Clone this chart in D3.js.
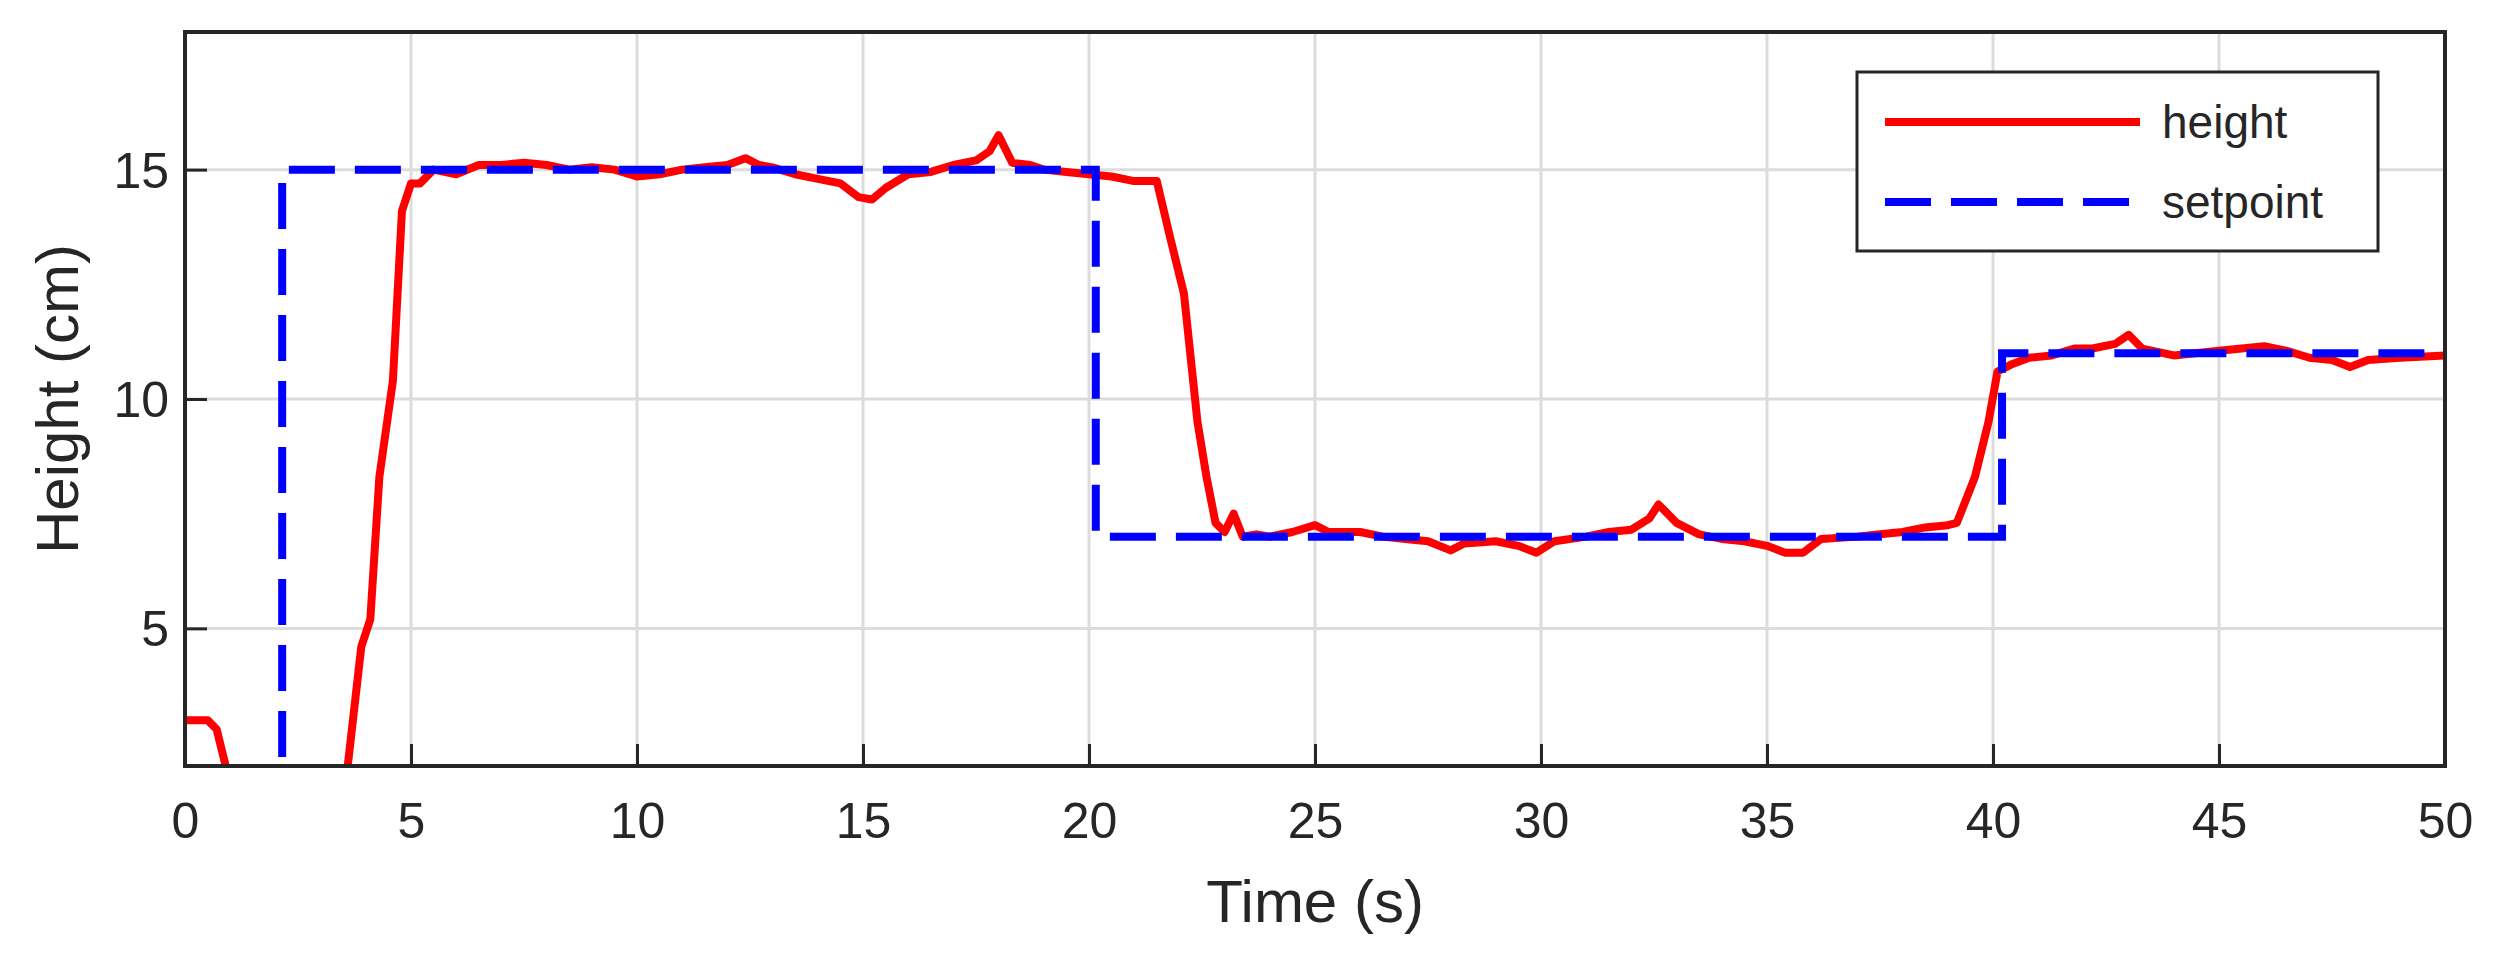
<!DOCTYPE html><html><head><meta charset="utf-8"><script src="https://cdn.jsdelivr.net/npm/d3@7"></script>
<style>body{margin:0;background:#fff}text{font-family:"Liberation Sans",Arial,sans-serif;fill:#262626}</style></head><body><svg id="c" width="2503" height="964"></svg><script>
const timeH=[0,0.5,0.7,0.9,2.2,3.6,3.9,4.1,4.3,4.6,4.8,5.0,5.2,5.5,6,6.5,7,7.5,8,8.5,9,9.5,10,10.5,11,11.5,12,12.4,12.7,13,13.5,14,14.5,14.9,15.2,15.5,16,16.5,17,17.5,17.8,18.0,18.3,18.7,19,19.5,20,20.5,21,21.5,21.8,22.1,22.4,22.6,22.8,23.0,23.2,23.4,23.7,24,24.5,25,25.3,26,26.5,27,27.5,28,28.3,29,29.5,29.9,30.3,31,31.5,32,32.4,32.6,33,33.5,34,34.5,35,35.4,35.8,36.2,37,37.5,38,38.5,39,39.2,39.6,39.9,40.1,40.4,40.8,41.3,41.8,42.2,42.7,43.0,43.3,44,45,45.5,46,46.5,47,47.5,47.9,48.3,49,50];
const height=[3,3,2.8,2,0.5,2,4.6,5.2,8.3,10.4,14.1,14.7,14.7,15.0,14.9,15.1,15.1,15.15,15.1,15.0,15.05,15.0,14.85,14.9,15.0,15.05,15.1,15.25,15.1,15.05,14.9,14.8,14.7,14.4,14.35,14.6,14.9,14.95,15.1,15.2,15.4,15.75,15.15,15.1,15.0,14.95,14.9,14.85,14.75,14.75,13.5,12.3,9.5,8.3,7.3,7.1,7.5,7.0,7.05,7.0,7.1,7.25,7.1,7.1,7.0,6.95,6.9,6.7,6.85,6.9,6.8,6.65,6.9,7.0,7.1,7.15,7.4,7.7,7.3,7.05,6.95,6.9,6.8,6.65,6.65,6.95,7.0,7.05,7.1,7.2,7.25,7.3,8.3,9.5,10.6,10.75,10.9,10.95,11.1,11.1,11.2,11.4,11.1,10.95,11.05,11.1,11.15,11.05,10.9,10.85,10.7,10.85,10.9,10.95];
const timeS=[0,2.15,2.15,20.15,20.15,40.2,40.2,50];
const setpoint=[0,0,15,15,7,7,11,11];
const xTicks=[0,5,10,15,20,25,30,35,40,45,50];
const yTicks=[5,10,15];
const L=185,R=2445,T=32,B=766;
const svg=d3.select("#c");
const x=d3.scaleLinear().domain([0,50]).range([L,R]);
const y=d3.scaleLinear().domain([2,18]).range([B,T]);
const g=svg.append("g");
g.selectAll(".gx").data(xTicks).join("line").attr("x1",d=>x(d)).attr("x2",d=>x(d)).attr("y1",T).attr("y2",B).attr("stroke","#dcdcdc").attr("stroke-width",3);
g.selectAll(".gy").data(yTicks).join("line").attr("y1",d=>y(d)).attr("y2",d=>y(d)).attr("x1",L).attr("x2",R).attr("stroke","#dcdcdc").attr("stroke-width",3);
svg.append("clipPath").attr("id","cp").append("rect").attr("x",L).attr("y",T).attr("width",R-L).attr("height",B-T);
const line=d3.line().x(d=>x(d[0])).y(d=>y(d[1]));
svg.append("path").attr("clip-path","url(#cp)").attr("d",line(timeH.map((t,i)=>[t,height[i]]))).attr("fill","none").attr("stroke","#ff0000").attr("stroke-width",8).attr("stroke-linejoin","round");
svg.append("path").attr("clip-path","url(#cp)").attr("d",line(timeS.map((t,i)=>[t,setpoint[i]]))).attr("fill","none").attr("stroke","#0000ff").attr("stroke-width",8).attr("stroke-dasharray","46 20");
const ax=svg.append("g").attr("transform",`translate(0,${B})`).call(d3.axisBottom(x).tickValues(xTicks).tickSizeInner(-22).tickSizeOuter(0).tickPadding(36));
const ay=svg.append("g").attr("transform",`translate(${L},0)`).call(d3.axisLeft(y).tickValues(yTicks).tickSizeInner(-22).tickSizeOuter(0).tickPadding(16));
[ax,ay].forEach(a=>{a.select(".domain").remove();a.selectAll("line").attr("stroke","#262626").attr("stroke-width",3);a.selectAll("text").attr("font-size",50).attr("fill","#262626").style("font-family","Liberation Sans, Arial")});
ay.selectAll("text").attr("dy","0.35em");
svg.append("rect").attr("x",L).attr("y",T).attr("width",R-L).attr("height",B-T).attr("fill","none").attr("stroke","#262626").attr("stroke-width",4);
svg.append("text").attr("x",(L+R)/2).attr("y",922).attr("text-anchor","middle").attr("font-size",60).text("Time (s)");
svg.append("text").attr("transform",`translate(78,${(T+B)/2}) rotate(-90)`).attr("text-anchor","middle").attr("font-size",60).text("Height (cm)");
const lg=svg.append("g");
lg.append("rect").attr("x",1857).attr("y",72).attr("width",521).attr("height",179).attr("fill","#fff").attr("stroke","#262626").attr("stroke-width",3);
const items=[["height","#ff0000",null],["setpoint","#0000ff","46 20"]];
items.forEach((it,i)=>{const yy=122+i*80;
lg.append("line").attr("x1",1885).attr("x2",2140).attr("y1",yy).attr("y2",yy).attr("stroke",it[1]).attr("stroke-width",8).attr("stroke-dasharray",it[2]);
lg.append("text").attr("x",2162).attr("y",yy).attr("dy","0.35em").attr("font-size",46).text(it[0]);});
</script></body></html>
